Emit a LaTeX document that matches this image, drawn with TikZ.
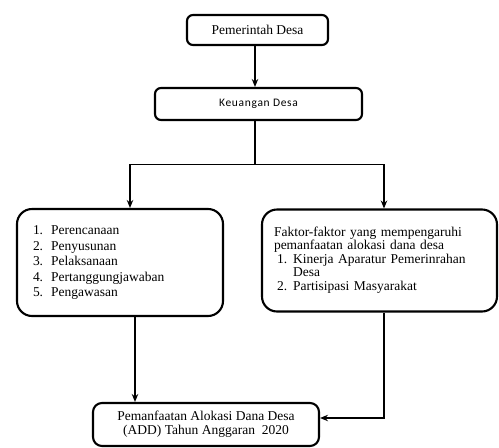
\documentclass[tikz,border=0pt]{standalone}
\usepackage{fontspec}
\setmainfont{Liberation Serif}
\newfontfamily\keufont[LetterSpace=6]{Carlito}
\usetikzlibrary{arrows.meta}

\begin{document}
\begin{tikzpicture}[x=1pt,y=-1pt,
  every node/.style={font=\fontsize{13.5}{15.5}\selectfont},
  box/.style={draw,line width=2.1pt,rounded corners=6pt,align=center,inner sep=2pt},
  bigbox/.style={draw,line width=2.1pt,rounded corners=15pt,align=left,inner ysep=4pt},
  arr/.style={-{Stealth[length=8pt,width=6.5pt]},line width=1.1pt}]
  \useasboundingbox (0,0) rectangle (499,448);
  \node[box,minimum width=141pt,minimum height=30pt] (pemdes) at (257.5,30) {Pemerintah Desa};
  \node[box,minimum width=207pt,minimum height=32pt,font=\keufont\fontsize{11.5}{13}\selectfont] (keu) at (258.5,104) {Keuangan Desa};
  \node[bigbox,minimum width=206pt,minimum height=107pt,inner xsep=16pt,text width=174pt] (tahap) at (120,262.5)
    {\begin{tabular}{@{}l@{\hspace{8pt}}l@{}}
      1. & Perencanaan\\ 2. & Penyusunan\\ 3. & Pelaksanaan\\ 4. & Pertanggungjawaban\\ 5. & Pengawasan
     \end{tabular}};
  \node[bigbox,minimum width=235pt,minimum height=102pt,inner xsep=12pt,text width=211pt,font=\fontsize{13.5}{13.5}\selectfont] (faktor) at (379.5,260.5)
    {\begin{tabular}{@{\hspace{3pt}}l@{\hspace{6pt}}l@{}}
      \multicolumn{2}{@{}l@{}}{Faktor-faktor yang mempengaruhi}\\
      \multicolumn{2}{@{}l@{}}{pemanfaatan alokasi dana desa}\\
      1. & Kinerja Aparatur Pemerinrahan\\
         & Desa\\
      2. & Partisipasi Masyarakat
     \end{tabular}};
  \node[box,rounded corners=9pt,minimum width=226pt,minimum height=43pt,font=\fontsize{13.5}{14}\selectfont] (hasil) at (206,424.5)
    {Pemanfaatan Alokasi Dana Desa\\(ADD) Tahun Anggaran\ \ 2020};
  \draw[arr] ([xshift=-2.5pt]pemdes.south) -- ([xshift=-3.5pt]keu.north);
  \draw[arr] ([xshift=-3.5pt]keu.south) -- ++(0,43) -| ([xshift=10pt]tahap.north);
  \draw[arr] ([xshift=-3.5pt]keu.south) -- ++(0,43) -| ([xshift=4.5pt]faktor.north);
  \draw[arr] ([xshift=15pt]tahap.south) -- ([xshift=15pt]tahap.south |- hasil.north);
  \draw[arr] ([xshift=4.5pt]faktor.south) |- ([yshift=6.5pt]hasil.east);
\end{tikzpicture}
\end{document}
